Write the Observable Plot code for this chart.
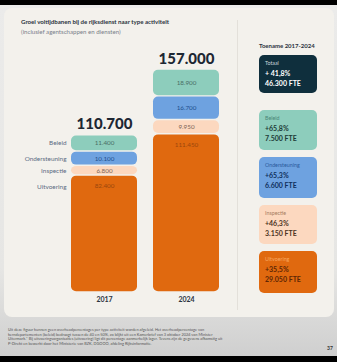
<!DOCTYPE html>
<html><head><meta charset="utf-8">
<script src="https://cdn.jsdelivr.net/npm/d3@7"></script>
<script src="https://cdn.jsdelivr.net/npm/@observablehq/plot@0.6"></script>
<style>
  html,body{margin:0;padding:0;}
  body{width:337px;height:362px;position:relative;overflow:hidden;background:#000;font-family:Lato,"Noto Sans",sans-serif;}
  #outer{position:absolute;left:0;top:5px;width:337px;height:351px;background:linear-gradient(#ebebea,#e6e6e4 75%,#cfcfcf);}
  #card{position:absolute;left:4px;top:8px;width:330px;height:309px;background:#f3f1ec;border-radius:8px;}
  #divider{position:absolute;left:237px;top:20px;width:1px;height:290px;background:#e3e0da;}
  .t{position:absolute;white-space:nowrap;}
  #title{left:21px;top:18px;font-size:6.1px;font-weight:700;color:#2b3340;}
  #subtitle{left:21px;top:28px;font-size:6.1px;color:#7a808a;}
  #panelTitle{left:259px;top:42px;font-size:6px;font-weight:700;color:#2b3340;}
  #chart{position:absolute;left:0;top:40px;}
  .box{position:absolute;left:259px;width:58px;border-radius:5px;}
  .box .l{position:absolute;left:6px;top:5px;font-size:5.3px;}
  .box .p{position:absolute;left:6px;top:14px;font-size:7px;font-weight:700;}
  .box .f{position:absolute;left:6px;top:24px;font-size:7px;font-weight:700;}
  #foot{left:8px;top:328px;width:215px;white-space:normal;font-size:3.9px;line-height:4.6px;color:#555;}
  #page{left:327px;top:345px;font-size:5px;font-weight:700;color:#333;}
</style></head>
<body>
<div id="outer"></div>
<div id="card"></div>
<div id="divider"></div>
<div class="t" id="title">Groei voltijdbanen bij de rijksdienst naar type activiteit</div>
<div class="t" id="subtitle">(inclusief agentschappen en diensten)</div>
<div class="t" id="panelTitle">Toename 2017-2024</div>
<div id="chart"></div>
<div id="panel"></div>
<div class="t" id="foot">Uit deze figuur kunnen geen overheadpercentages per type activiteit worden afgeleid. Het overheadpercentage van kerndepartementen (beleid) bedraagt tussen de 40 en 50%, zo blijkt uit een Kamerbrief van 3 oktober 2024 van Minister Uitermark.* Bij uitvoeringsorganisaties (uitvoering) ligt dit percentage aanmerkelijk lager. Tevens zijn de gegevens afkomstig uit P-Direkt en bewerkt door het Ministerie van BZK, DGOOO, afdeling Rijksinformatie.</div>
<div class="t" id="page">37</div>
<script>
const years = ["2017", "2024"];
const categories = ["Uitvoering", "Inspectie", "Ondersteuning", "Beleid"];
const values2017 = [82400, 6800, 10100, 11400];
const values2024 = [111450, 9950, 16700, 18900];
const valueLabels2017 = ["82.400", "6.800", "10.100", "11.400"];
const valueLabels2024 = ["111.450", "9.950", "16.700", "18.900"];
const totals = [110700, 157000];
const totalLabels = ["110.700", "157.000"];
const segColors = ["#e0690f", "#fcd8bf", "#6ea2e0", "#8dcdbc"];
const segTextColors = ["#9c470c", "#7c6657", "#22508e", "#4a6f66"];

const panelLabels = ["Totaal", "Beleid", "Ondersteuning", "Inspectie", "Uitvoering"];
const panelPct = ["+ 41,8%", "+65,8%", "+65,3%", "+46,3%", "+35,5%"];
const panelFte = ["46.300 FTE", "7.500 FTE", "6.600 FTE", "3.150 FTE", "29.050 FTE"];
const panelBg = ["#0f2f3d", "#8dcdbc", "#6ea2e0", "#fcd8bf", "#e0690f"];
const panelLabelColor = ["#c9d5db", "#4a8777", "#2a5a9c", "#a67c60", "#f7a862"];
const panelTextColor = ["#ffffff", "#1d3b37", "#10305c", "#4d3322", "#5e2604"];

// build rows with stacked extents
const rows = [];
[values2017, values2024].forEach((vals, yi) => {
  let acc = 0;
  vals.forEach((v, ci) => {
    rows.push({year: years[yi], category: categories[ci], value: v,
      label: (yi === 0 ? valueLabels2017 : valueLabels2024)[ci],
      y1: acc, y2: acc + v, ci});
    acc += v;
  });
});
const totalRows = years.map((y, i) => ({year: y, total: totals[i], label: totalLabels[i]}));

const chart = Plot.plot({
  width: 237, height: 270,
  marginTop: 29, marginBottom: 18,
  style: {background: "transparent", fontFamily: "Lato, 'Noto Sans', sans-serif"},
  x: {type: "band", domain: years, range: [71, 219], paddingInner: 0.2, paddingOuter: 0, axis: null},
  y: {domain: [0, 157000], range: [252, 29], axis: null},
  color: {domain: categories, range: segColors},
  marks: [
    Plot.barY(rows, {x: "year", y1: "y1", y2: "y2", fill: "category", rx: 5, insetTop: 0.7, insetBottom: 0.7}),
    Plot.text(rows.filter(d => d.category !== "Uitvoering"), {x: "year", y: d => (d.y1 + d.y2) / 2, text: "label",
      fill: d => segTextColors[d.ci], fontSize: 6.3}),
    Plot.text(rows.filter(d => d.category === "Uitvoering"), {x: "year", y: "y2", dy: 11, text: "label",
      fill: d => segTextColors[d.ci], fontSize: 6.3}),
    Plot.text(rows.filter(d => d.year === "2017" && d.category !== "Uitvoering"), {x: "year", y: d => (d.y1 + d.y2) / 2,
      text: "category", textAnchor: "end", dx: -38, fill: "#5b6b82", fontSize: 6.4}),
    Plot.text(rows.filter(d => d.year === "2017" && d.category === "Uitvoering"), {x: "year", y: "y2", dy: 11,
      text: "category", textAnchor: "end", dx: -38, fill: "#5b6b82", fontSize: 6.4}),
    Plot.text(totalRows, {x: "year", y: "total", text: "label", dy: -6, lineAnchor: "bottom",
      fontSize: 15, fontWeight: 900, fill: "#1d2733"}),
    Plot.text(years, {x: d => d, frameAnchor: "bottom", dy: 9, text: d => d,
      fontSize: 7, fontWeight: 700, fill: "#2b3340"})
  ]
});
document.getElementById("chart").appendChild(chart);

const tops = [55, 110, 157, 205, 251];
const heights = [38, 40, 41, 39, 42];
const panel = document.getElementById("panel");
panelLabels.forEach((lab, i) => {
  const b = document.createElement("div");
  b.className = "box";
  b.style.top = tops[i] + "px";
  b.style.height = heights[i] + "px";
  b.style.background = panelBg[i];
  b.innerHTML = `<div class="t l" style="color:${panelLabelColor[i]}">${lab}</div>` +
    `<div class="t p" style="color:${panelTextColor[i]}">${panelPct[i]}</div>` +
    `<div class="t f" style="color:${panelTextColor[i]}">${panelFte[i]}</div>`;
  panel.appendChild(b);
});
</script>
</body></html>
